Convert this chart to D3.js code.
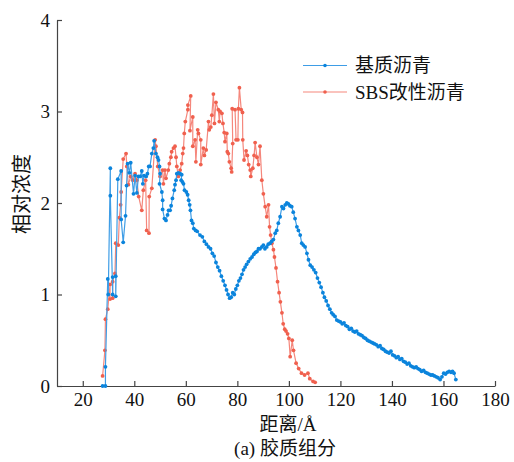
<!DOCTYPE html>
<html><head><meta charset="utf-8">
<script src="https://cdn.jsdelivr.net/npm/d3@7"></script>
<style>
html,body{margin:0;padding:0;background:#fff;}
svg text{fill:#111;}
.lat{font-family:"Liberation Serif";}
.mix{font-family:"Liberation Serif","Noto Sans CJK SC";}
</style></head>
<body>
<svg id="chart" width="514" height="462"></svg>
<script>
const seriesNames = ["基质沥青", "SBS改性沥青"];
const xTicks = [20, 40, 60, 80, 100, 120, 140, 160, 180];
const yTicks = [0, 1, 2, 3, 4];
const xTitle = "距离/Å";
const yTitle = "相对浓度";
const caption = "(a) 胶质组分";

const basePoints = [[27.7,0],[28.8,0],[28.8,0.21],[29.7,1.17],[29.9,1.0],[30.7,2.38],[30.7,2.08],[31.6,1.0],[31.6,1.19],[32.8,1.2],[32.8,0.98],[33.6,2.26],[34.9,2.35],[34.9,1.82],[35.7,1.57],[36.6,1.86],[37.0,2.19],[37.4,2.43],[38.1,2.33],[38.6,2.44],[39.7,2.1],[40.3,2.3],[41.0,2.11],[41.6,2.29],[42.3,2.29],[42.9,2.35],[43.3,2.21],[43.8,2.3],[44.6,2.29],[45.1,2.32],[45.6,2.4],[46.1,2.4],[46.8,2.54],[47.4,2.6],[47.7,2.68],[48.4,2.54],[49.0,2.5],[49.4,2.47],[49.8,2.4],[50.0,2.32],[49.8,2.21],[50.7,2.12],[51.0,2.03],[51.0,1.93],[51.7,1.83],[52.3,1.81],[52.9,1.87],[53.3,1.92],[53.9,1.92],[54.3,1.97],[54.8,2.05],[55.5,2.14],[55.8,2.2],[56.2,2.25],[56.5,2.32],[57.1,2.33],[57.8,2.32],[58.4,2.31],[58.2,2.25],[58.7,2.23],[59.1,2.21],[59.5,2.14],[60.2,2.12],[60.7,2.09],[61.1,2.03],[61.5,1.98],[61.8,1.92],[62.2,1.81],[62.7,1.78],[63.1,1.72],[63.8,1.7],[64.4,1.69],[65.5,1.65],[66.4,1.63],[67.2,1.58],[68.0,1.55],[68.8,1.52],[69.6,1.5],[70.3,1.45],[71.0,1.42],[71.7,1.35],[72.4,1.3],[73.1,1.26],[73.8,1.2],[74.5,1.15],[75.2,1.1],[75.8,1.05],[76.4,1.0],[77.0,0.96],[77.6,0.97],[78.2,1.02],[78.8,1.0],[79.4,1.06],[80.0,1.1],[80.6,1.15],[81.2,1.18],[81.8,1.22],[82.4,1.27],[83.0,1.3],[83.6,1.33],[84.3,1.36],[85.0,1.39],[85.7,1.41],[86.4,1.44],[87.0,1.46],[87.6,1.47],[88.2,1.5],[88.8,1.5],[89.5,1.52],[90.1,1.54],[90.7,1.5],[91.4,1.52],[92.0,1.55],[92.7,1.56],[93.3,1.58],[94.0,1.6],[94.7,1.67],[95.3,1.7],[95.9,1.78],[96.6,1.85],[97.3,1.96],[97.9,1.94],[98.6,1.98],[99.2,2.0],[99.8,1.99],[100.4,1.97],[101.1,1.96],[101.7,1.9],[102.4,1.83],[103.1,1.74],[103.7,1.7],[104.4,1.65],[105.0,1.56],[105.6,1.54],[106.3,1.52],[107.0,1.45],[107.6,1.38],[108.3,1.32],[109.0,1.3],[109.7,1.27],[110.4,1.24],[111.1,1.18],[111.8,1.13],[112.5,1.08],[113.2,1.02],[113.8,0.97],[114.5,0.93],[115.2,0.88],[115.9,0.84],[116.6,0.8],[117.2,0.78],[117.9,0.76],[118.6,0.72],[119.3,0.71],[120.0,0.7],[120.7,0.68],[121.4,0.69],[122.1,0.66],[122.8,0.65],[123.5,0.62],[124.2,0.63],[124.9,0.6],[125.6,0.59],[126.3,0.6],[127.0,0.57],[127.7,0.56],[128.4,0.55],[129.1,0.53],[129.8,0.52],[130.5,0.5],[131.2,0.49],[131.9,0.48],[132.6,0.47],[133.3,0.46],[134.0,0.45],[134.7,0.43],[135.4,0.44],[136.1,0.41],[136.8,0.4],[137.5,0.38],[138.2,0.37],[138.9,0.36],[139.6,0.38],[140.3,0.34],[141.0,0.33],[141.7,0.31],[142.4,0.32],[143.1,0.29],[143.8,0.3],[144.5,0.27],[145.2,0.26],[145.9,0.24],[146.6,0.25],[147.3,0.22],[148.0,0.21],[148.7,0.2],[149.4,0.21],[150.1,0.19],[150.8,0.18],[151.5,0.16],[152.3,0.17],[153.0,0.15],[153.7,0.14],[154.4,0.13],[155.1,0.12],[155.8,0.12],[156.5,0.11],[157.2,0.1],[157.9,0.09],[158.7,0.07],[159.4,0.1],[160.1,0.14],[160.8,0.13],[161.5,0.15],[162.2,0.16],[162.9,0.15],[163.5,0.16],[164.1,0.14],[164.8,0.07]];

const sbsPoints = [[27.7,0.11],[28.6,0.39],[28.8,0.73],[29.7,0.84],[30.6,1.11],[30.6,0.95],[31.6,0.96],[31.6,1.14],[32.5,1.23],[32.8,1.56],[33.8,1.54],[34.2,1.84],[34.7,1.98],[34.9,2.12],[35.7,2.48],[36.8,2.54],[37.1,2.4],[37.7,2.2],[38.6,2.29],[39.4,2.25],[40.3,2.32],[41.0,2.25],[41.7,2.07],[42.9,1.92],[43.5,2.14],[44.4,2.25],[44.8,1.7],[45.7,1.67],[45.8,2.07],[46.8,2.16],[48.1,2.69],[48.4,2.62],[49.1,2.4],[50.0,2.29],[51.0,2.36],[51.3,2.21],[51.9,2.36],[52.3,2.27],[53.2,2.36],[53.6,2.43],[54.2,2.5],[54.5,2.56],[55.2,2.6],[55.8,2.62],[56.2,2.5],[56.5,2.4],[57.1,2.29],[57.8,2.36],[58.4,2.43],[58.8,2.54],[59.1,2.6],[59.4,2.76],[59.8,2.89],[60.8,3.02],[60.8,3.07],[61.9,3.17],[61.6,2.79],[62.7,2.94],[62.7,2.62],[63.6,2.69],[63.9,2.45],[64.6,2.8],[64.9,2.76],[65.8,2.69],[65.8,2.42],[66.8,2.6],[67.2,2.52],[67.9,2.58],[68.8,2.89],[69.1,2.8],[69.7,2.83],[70.1,2.96],[70.7,3.19],[71.1,2.87],[71.7,3.1],[72.6,3.02],[73.0,2.89],[73.3,3.0],[74.0,2.98],[74.4,2.87],[74.9,2.77],[75.2,2.67],[75.9,2.76],[76.1,2.56],[76.5,2.54],[76.9,2.45],[77.6,2.38],[77.8,2.34],[78.2,2.65],[78.0,3.03],[79.1,3.02],[79.5,2.69],[80.2,2.69],[80.4,3.03],[80.8,3.26],[81.5,3.02],[82.0,2.99],[82.1,2.69],[82.6,2.47],[83.4,2.57],[83.9,2.52],[84.4,2.42],[85.0,2.36],[85.2,2.29],[86.0,2.38],[86.5,2.52],[86.9,2.66],[87.6,2.5],[88.2,2.42],[88.8,2.62],[89.5,2.25],[90.1,2.1],[90.8,1.96],[91.4,1.85],[92.1,1.98],[92.5,1.74],[92.9,1.65],[93.4,1.56],[94.0,1.49],[94.4,1.41],[95.0,1.29],[95.6,1.14],[96.2,1.02],[96.7,0.92],[97.3,0.8],[97.8,0.68],[98.4,0.62],[98.9,0.6],[99.5,0.57],[100.0,0.52],[100.5,0.32],[101.3,0.5],[101.8,0.39],[102.8,0.25],[103.8,0.19],[104.9,0.14],[106.1,0.12],[107.4,0.14],[108.1,0.08],[109.4,0.05],[110.2,0.04]];

const colors = {base: {line: "#3e9de6", mark: "#0b84dc"}, sbs: {line: "#f5877c", mark: "#f0604e"}};

const svg = d3.select("#chart");
const x = d3.scaleLinear().domain([10, 180]).range([57, 495]);
const y = d3.scaleLinear().domain([0, 4]).range([386, 20]);
const axisColor = "#444";

const gx = svg.append("g").attr("transform", `translate(0,${y(0)})`)
  .call(d3.axisBottom(x).tickValues(xTicks).tickSize(-5).tickSizeOuter(0).tickPadding(7).tickFormat(d3.format("d")));
const gy = svg.append("g").attr("transform", `translate(${x(10)},0)`)
  .call(d3.axisLeft(y).tickValues(yTicks).tickSize(-5).tickSizeOuter(0).tickPadding(7).tickFormat(d3.format("d")));
[gx, gy].forEach(g => {
  g.attr("font-family", null).attr("font-size", null);
  g.select(".domain").attr("stroke", axisColor).attr("stroke-width", 1.2);
  g.selectAll(".tick line").attr("stroke", axisColor).attr("stroke-width", 1.2);
  g.selectAll(".tick text").attr("class", "lat").attr("font-size", 19).attr("fill", "#111");
});

const line = d3.line().x(d => x(d[0])).y(d => y(d[1]));
function drawSeries(data, c) {
  svg.append("path").datum(data).attr("d", line).attr("fill", "none")
    .attr("stroke", c.line).attr("stroke-width", 1.2).attr("stroke-linejoin", "round");
  svg.append("g").selectAll("circle").data(data).join("circle")
    .attr("cx", d => x(d[0])).attr("cy", d => y(d[1])).attr("r", 1.9).attr("fill", c.mark);
}
drawSeries(sbsPoints, colors.sbs);
drawSeries(basePoints, colors.base);

const legend = [{name: seriesNames[0], c: colors.base, yy: 65.5}, {name: seriesNames[1], c: colors.sbs, yy: 92}];
legend.forEach(l => {
  svg.append("line").attr("x1", 303).attr("x2", 347).attr("y1", l.yy).attr("y2", l.yy)
    .attr("stroke", l.c.line).attr("stroke-width", 1.2);
  svg.append("circle").attr("cx", 325).attr("cy", l.yy).attr("r", 1.8).attr("fill", l.c.mark);
  svg.append("text").attr("class", "mix").attr("x", 355).attr("y", l.yy).attr("dy", "0.36em").attr("font-size", 19).text(l.name);
});

svg.append("text").attr("class", "mix").attr("x", 288).attr("y", 431).attr("text-anchor", "middle").attr("font-size", 19).text(xTitle);
svg.append("text").attr("class", "mix").attr("x", 285).attr("y", 455).attr("text-anchor", "middle").attr("font-size", 19).text(caption);
svg.append("text").attr("class", "mix").attr("transform", "translate(29,194) rotate(-90)").attr("text-anchor", "middle").attr("font-size", 20).text(yTitle);
</script>
</body></html>
